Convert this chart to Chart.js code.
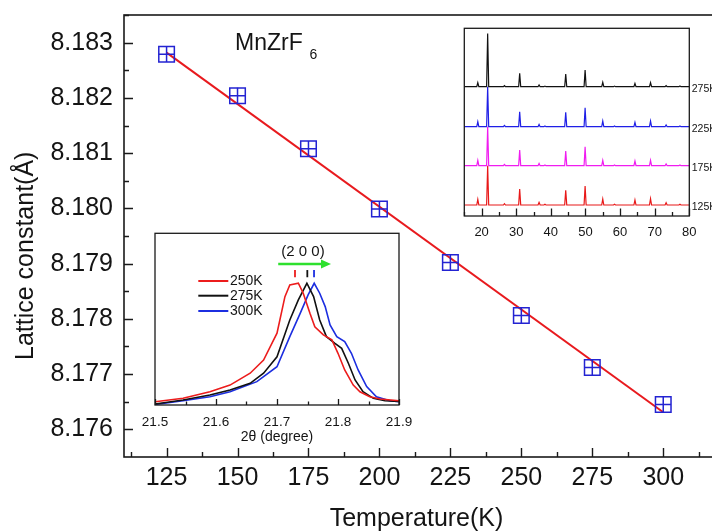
<!DOCTYPE html>
<html><head><meta charset="utf-8">
<script src="https://cdn.jsdelivr.net/npm/chart.js@4.4.1/dist/chart.umd.min.js"></script>
<style>
html,body{margin:0;padding:0;background:#fff;overflow:hidden}
#wrap{position:relative;width:712px;height:531px;overflow:hidden;background:#fff}
canvas{position:absolute;display:block}
</style></head><body>
<div id="wrap">
<canvas id="main" width="740" height="531" style="left:0;top:0"></canvas>
<canvas id="xrd" width="284" height="222" style="left:456px;top:22px"></canvas>
<canvas id="peak" width="290" height="216" style="left:140px;top:230px"></canvas>
</div>
<script>
// ---------- main plot data ----------
const temperatures = [125, 150, 175, 200, 225, 250, 275, 300];
const latticeConstant = [8.18279, 8.18204, 8.18108, 8.17999, 8.17902, 8.17806, 8.17712, 8.17645];
const fitTemperatures = [125, 300];
const fitLattice = [8.18282, 8.17631];
const xTickValues = [125, 150, 175, 200, 225, 250, 275, 300];
const xMinorTicks = [112.5, 137.5, 162.5, 187.5, 212.5, 237.5, 262.5, 287.5, 312.5];
const yTickValues = [8.176, 8.177, 8.178, 8.179, 8.180, 8.181, 8.182, 8.183];
const yMinorTicks = [8.1765, 8.1775, 8.1785, 8.1795, 8.1805, 8.1815, 8.1825, 8.1835];

// ---------- top-right inset (XRD patterns) ----------
const xrdLabels = ['275K', '225K', '175K', '125K'];
const xrdOffsets = [129.3, 89.3, 50.3, 11];
const xrdPeakPositions = [18.9, 21.75, 26.6, 31.0, 36.6, 38.3, 44.3, 49.9, 55.0, 58.4, 64.3, 68.8, 73.3, 77.3];
const xrd275 = [4.0, 53.3, 1.0, 13.3, 1.7, 0.6, 12.7, 16.7, 4.3, 0.6, 3.3, 4.0, 1.0, 0.7];
const xrd225 = [5.0, 40.0, 1.3, 15.0, 2.3, 0.7, 14.3, 19.0, 5.7, 0.7, 4.3, 5.7, 1.7, 0.8];
const xrd175 = [5.3, 39.0, 1.3, 15.7, 2.3, 0.7, 14.7, 19.0, 5.3, 0.7, 4.7, 5.3, 1.7, 0.8];
const xrd125 = [5.7, 39.3, 1.3, 16.0, 2.7, 0.7, 14.7, 19.0, 6.0, 0.7, 5.0, 6.3, 2.3, 0.8];
const xrdTickValues = [20, 30, 40, 50, 60, 70, 80];
const xrdMinorTicks = [15, 25, 35, 45, 55, 65, 75];

// ---------- bottom-left inset (200 peak) ----------
const peakLabels = ['250K', '275K', '300K'];
const peak250X = [21.500, 21.546, 21.590, 21.623, 21.656, 21.678, 21.700, 21.713, 21.721, 21.735, 21.743, 21.754, 21.762, 21.776, 21.790, 21.800, 21.811, 21.825, 21.836, 21.852, 21.869, 21.900];
const peak250Y = [1.9, 3.9, 7.7, 11.6, 18.5, 26.2, 41.8, 63.1, 69.9, 70.9, 65.1, 53.4, 45.6, 40.8, 37.9, 30.1, 20.4, 11.6, 7.7, 4.8, 3.5, 2.5];
const peak275X = [21.500, 21.546, 21.590, 21.623, 21.656, 21.678, 21.700, 21.721, 21.735, 21.749, 21.760, 21.770, 21.781, 21.795, 21.806, 21.817, 21.828, 21.841, 21.858, 21.877, 21.900];
const peak275Y = [0.6, 2.9, 5.8, 8.7, 12.6, 18.5, 28.1, 49.5, 61.2, 70.9, 63.1, 49.5, 39.8, 35.9, 33.0, 24.3, 14.6, 7.7, 3.9, 2.5, 2.0];
const peak300X = [21.500, 21.546, 21.590, 21.623, 21.667, 21.700, 21.721, 21.738, 21.751, 21.761, 21.770, 21.779, 21.787, 21.798, 21.811, 21.822, 21.833, 21.847, 21.863, 21.885, 21.900];
const peak300Y = [0.3, 2.5, 4.8, 7.7, 13.6, 22.3, 39.8, 53.4, 64.1, 70.9, 65.1, 57.3, 46.6, 39.8, 36.9, 30.1, 20.4, 10.7, 4.8, 2.5, 1.9];
const peakCenters = [21.7295, 21.7497, 21.7607];
const peakTickValues = [21.5, 21.6, 21.7, 21.8, 21.9];
const peakMinorTicks = [21.55, 21.65, 21.75, 21.85];

// ---------- styling ----------
const FONT = "'Liberation Sans', Arial, Helvetica, sans-serif";
const BLUE = '#2323d2';
const RED = '#e81a1e';
const AXIS = '#1a1a1a';
const TXT = '#141414';

const common = {
  responsive: false, animation: false, devicePixelRatio: 1, events: [],
  plugins: { legend: { display: false }, tooltip: { enabled: false } }
};
function noPad(s) { s.paddingLeft = 0; s.paddingRight = 0; s.paddingTop = 0; s.paddingBottom = 0; }

// ===== MAIN =====
const mainPts = temperatures.map((t, i) => ({ x: t, y: latticeConstant[i] }));
const fitPts = fitTemperatures.map((t, i) => ({ x: t, y: fitLattice[i] }));

const mainDecor = {
  id: 'mainDecor',
  afterDraw(chart) {
    const { ctx, chartArea: a, scales: { x, y } } = chart;
    ctx.save();
    ctx.strokeStyle = AXIS;
    ctx.lineWidth = 1.6;
    ctx.strokeRect(a.left, a.top, a.right - a.left, a.bottom - a.top);
    ctx.lineWidth = 1.4;
    ctx.beginPath();
    xTickValues.forEach(v => { const p = Math.round(x.getPixelForValue(v)) + 0.5; ctx.moveTo(p, a.bottom); ctx.lineTo(p, a.bottom - 9); });
    xMinorTicks.forEach(v => { const p = Math.round(x.getPixelForValue(v)) + 0.5; ctx.moveTo(p, a.bottom); ctx.lineTo(p, a.bottom - 5); });
    yTickValues.forEach(v => { const p = Math.round(y.getPixelForValue(v)) + 0.5; ctx.moveTo(a.left, p); ctx.lineTo(a.left + 9, p); });
    yMinorTicks.forEach(v => { const p = Math.round(y.getPixelForValue(v)) + 0.5; ctx.moveTo(a.left, p); ctx.lineTo(a.left + 5, p); });
    ctx.stroke();
    ctx.fillStyle = TXT;
    ctx.font = '25px ' + FONT;
    ctx.textAlign = 'center';
    ctx.textBaseline = 'alphabetic';
    ctx.fillText('Temperature(K)', 416.5, 526);
    ctx.save();
    ctx.translate(33, 360);
    ctx.rotate(-Math.PI / 2);
    ctx.textAlign = 'left';
    ctx.fillText('Lattice constant(\u00C5)', 0, 0);
    ctx.restore();
    ctx.textAlign = 'left';
    ctx.font = '23px ' + FONT;
    ctx.fillText('MnZrF', 235, 50);
    ctx.font = '14px ' + FONT;
    ctx.fillText('6', 309.5, 58.5);
    ctx.restore();
  }
};

new Chart(document.getElementById('main'), {
  type: 'scatter',
  data: {
    datasets: [
      { data: mainPts, pointStyle: 'cross', pointRadius: 7.8, pointHoverRadius: 7.8, borderColor: BLUE, borderWidth: 1.5, showLine: false },
      { data: mainPts, pointStyle: 'rect', pointRadius: 11, pointHoverRadius: 11, borderColor: BLUE, backgroundColor: 'rgba(0,0,0,0)', borderWidth: 1.5, showLine: false },
      { data: fitPts, showLine: true, borderColor: RED, borderWidth: 2, pointRadius: 0, fill: false }
    ]
  },
  options: Object.assign({}, common, {
    layout: { padding: { left: 0, right: 20, top: 15, bottom: 0 } },
    scales: {
      x: {
        type: 'linear', min: 110, max: 320,
        grid: { display: false, drawTicks: false }, border: { display: false },
        afterBuildTicks: s => { s.ticks = xTickValues.map(v => ({ value: v })); },
        afterFit: s => { s.height = 74; noPad(s); },
        ticks: { font: { family: FONT, size: 25 }, color: TXT, padding: 6, maxRotation: 0, autoSkip: false }
      },
      y: {
        type: 'linear', min: 8.1755, max: 8.1835,
        grid: { display: false, drawTicks: false }, border: { display: false },
        afterBuildTicks: s => { s.ticks = yTickValues.map(v => ({ value: v })); },
        afterFit: s => { s.width = 124; noPad(s); },
        ticks: { font: { family: FONT, size: 25 }, color: TXT, padding: 11, autoSkip: false, callback: v => Number(v).toFixed(3) }
      }
    }
  }),
  plugins: [mainDecor]
});

// ===== XRD INSET =====
function patternPoints(offset, heights) {
  const pts = [{ x: 15, y: offset }];
  xrdPeakPositions.forEach((p, i) => {
    pts.push({ x: p - 0.3, y: offset }, { x: p, y: offset + heights[i] }, { x: p + 0.3, y: offset });
  });
  pts.push({ x: 80, y: offset });
  return pts;
}
const xrdColors = ['#111111', '#1f1fe6', '#f01cf0', '#e81818'];
const xrdHeights = [xrd275, xrd225, xrd175, xrd125];

const xrdDecor = {
  id: 'xrdDecor',
  beforeDraw(chart) {
    const { ctx, chartArea: a } = chart;
    ctx.save(); ctx.fillStyle = '#fff';
    ctx.fillRect(a.left, a.top, a.right - a.left, a.bottom - a.top);
    ctx.restore();
  },
  afterDraw(chart) {
    const { ctx, chartArea: a, scales: { x, y } } = chart;
    ctx.save();
    ctx.strokeStyle = AXIS; ctx.lineWidth = 1.3;
    ctx.strokeRect(a.left, a.top, a.right - a.left, a.bottom - a.top);
    ctx.beginPath();
    xrdTickValues.forEach(v => { const p = Math.round(x.getPixelForValue(v)) + 0.5; ctx.moveTo(p, a.bottom); ctx.lineTo(p, a.bottom - 7.5); });
    xrdMinorTicks.forEach(v => { const p = Math.round(x.getPixelForValue(v)) + 0.5; ctx.moveTo(p, a.bottom); ctx.lineTo(p, a.bottom - 4); });
    ctx.stroke();
    ctx.fillStyle = TXT; ctx.font = '10.5px ' + FONT;
    ctx.textAlign = 'left'; ctx.textBaseline = 'middle';
    xrdLabels.forEach((l, i) => ctx.fillText(l, a.right + 2.4, y.getPixelForValue(xrdOffsets[i]) + 2.3));
    ctx.restore();
  }
};

new Chart(document.getElementById('xrd'), {
  type: 'scatter',
  data: {
    datasets: xrdLabels.map((l, i) => ({
      label: l, data: patternPoints(xrdOffsets[i], xrdHeights[i]), showLine: true,
      borderColor: xrdColors[i], borderWidth: 1.2, pointRadius: 0, fill: false
    }))
  },
  options: Object.assign({}, common, {
    layout: { padding: { left: 8.3, right: 50.7, top: 6.3, bottom: 0 } },
    scales: {
      x: {
        type: 'linear', min: 15, max: 80,
        grid: { display: false, drawTicks: false }, border: { display: false },
        afterBuildTicks: s => { s.ticks = xrdTickValues.map(v => ({ value: v })); },
        afterFit: s => { s.height = 28; noPad(s); },
        ticks: { font: { family: FONT, size: 13 }, color: TXT, padding: 8.5, maxRotation: 0, autoSkip: false }
      },
      y: { display: false, min: 0, max: 187.7 }
    }
  }),
  plugins: [xrdDecor]
});

// ===== PEAK INSET =====
const peakColors = ['#ec1c1c', '#111111', '#1c2ee0'];
const peakXs = [peak250X, peak275X, peak300X];
const peakYs = [peak250Y, peak275Y, peak300Y];

const peakDecor = {
  id: 'peakDecor',
  beforeDraw(chart) {
    const { ctx, chartArea: a } = chart;
    ctx.save(); ctx.fillStyle = '#fff';
    ctx.fillRect(a.left, a.top, a.right - a.left, a.bottom - a.top);
    ctx.restore();
  },
  afterDraw(chart) {
    const { ctx, chartArea: a, scales: { x, y } } = chart;
    ctx.save();
    ctx.strokeStyle = AXIS; ctx.lineWidth = 1.3;
    ctx.strokeRect(a.left, a.top, a.right - a.left, a.bottom - a.top);
    ctx.beginPath();
    peakTickValues.forEach(v => { const p = Math.round(x.getPixelForValue(v)) + 0.5; ctx.moveTo(p, a.bottom); ctx.lineTo(p, a.bottom - 6); });
    peakMinorTicks.forEach(v => { const p = Math.round(x.getPixelForValue(v)) + 0.5; ctx.moveTo(p, a.bottom); ctx.lineTo(p, a.bottom - 3.5); });
    ctx.stroke();
    // legend
    ctx.font = '14px ' + FONT; ctx.textBaseline = 'middle'; ctx.textAlign = 'left';
    const rows = [51, 65.7, 81];
    peakLabels.forEach((l, i) => {
      ctx.strokeStyle = peakColors[i]; ctx.lineWidth = 2;
      ctx.beginPath(); ctx.moveTo(a.left + 43.3, rows[i]); ctx.lineTo(a.left + 73.3, rows[i]); ctx.stroke();
      ctx.fillStyle = TXT; ctx.fillText(l, a.left + 75, rows[i]);
    });
    // (2 0 0) label
    ctx.font = '15px ' + FONT; ctx.textAlign = 'center';
    ctx.fillText('(2 0 0)', x.getPixelForValue(21.7426), y.getPixelForValue(89.3));
    // arrow
    const ax1 = x.getPixelForValue(21.702), ax2 = x.getPixelForValue(21.7885), ay = y.getPixelForValue(82.1);
    ctx.strokeStyle = '#2ee02e'; ctx.fillStyle = '#2ee02e'; ctx.lineWidth = 2.6;
    ctx.beginPath(); ctx.moveTo(ax1, ay); ctx.lineTo(ax2 - 8, ay); ctx.stroke();
    ctx.beginPath(); ctx.moveTo(ax2, ay); ctx.lineTo(ax2 - 10, ay - 4.5); ctx.lineTo(ax2 - 10, ay + 4.5); ctx.closePath(); ctx.fill();
    // peak position marks
    ctx.lineWidth = 1.8;
    peakCenters.forEach((c, i) => {
      const p = x.getPixelForValue(c);
      ctx.strokeStyle = peakColors[i];
      ctx.beginPath(); ctx.moveTo(p, y.getPixelForValue(78.6)); ctx.lineTo(p, y.getPixelForValue(74.4)); ctx.stroke();
    });
    // x title
    ctx.fillStyle = TXT; ctx.font = '14px ' + FONT; ctx.textAlign = 'center'; ctx.textBaseline = 'alphabetic';
    ctx.fillText('2\u03B8 (degree)', (a.left + a.right) / 2, a.bottom + 36.3);
    ctx.restore();
  }
};

new Chart(document.getElementById('peak'), {
  type: 'scatter',
  data: {
    datasets: peakLabels.map((l, i) => ({
      label: l, data: peakXs[i].map((v, j) => ({ x: v, y: peakYs[i][j] })), showLine: true,
      borderColor: peakColors[i], borderWidth: 1.6, pointRadius: 0, fill: false, tension: 0
    }))
  },
  options: Object.assign({}, common, {
    layout: { padding: { left: 15, right: 31, top: 3.3, bottom: 0 } },
    scales: {
      x: {
        type: 'linear', min: 21.5, max: 21.9,
        grid: { display: false, drawTicks: false }, border: { display: false },
        afterBuildTicks: s => { s.ticks = peakTickValues.map(v => ({ value: v })); },
        afterFit: s => { s.height = 41; noPad(s); },
        ticks: { font: { family: FONT, size: 13.5 }, color: TXT, padding: 9, maxRotation: 0, autoSkip: false, callback: v => Number(v).toFixed(1) }
      },
      y: { display: false, min: 0, max: 100 }
    }
  }),
  plugins: [peakDecor]
});
</script>
</body></html>
